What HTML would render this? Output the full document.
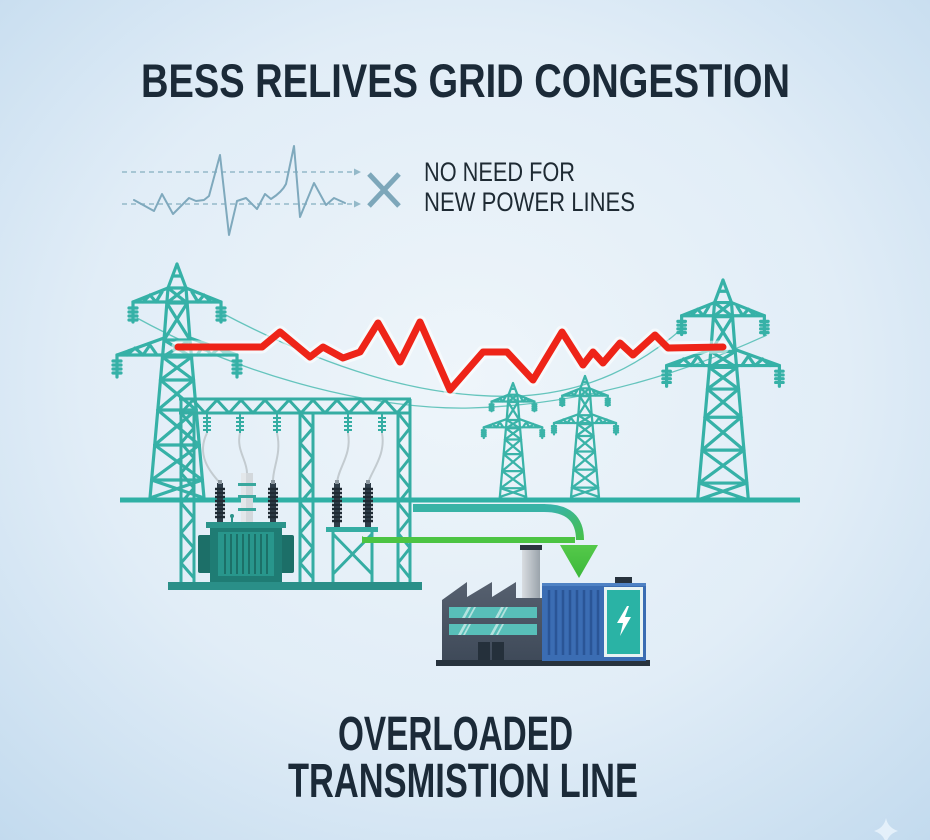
<!DOCTYPE html>
<html>
<head>
<meta charset="utf-8">
<style>
html,body{margin:0;padding:0;background:#dcebf6;}
svg{display:block;}
text{font-family:"Liberation Sans Narrow","Liberation Sans",sans-serif;}
</style>
</head>
<body>
<svg width="930" height="840" viewBox="0 0 930 840" xmlns="http://www.w3.org/2000/svg">
<defs>
  <radialGradient id="bg" cx="50%" cy="45%" r="75%">
    <stop offset="0" stop-color="#eef5fa"/>
    <stop offset="0.55" stop-color="#e1edf7"/>
    <stop offset="1" stop-color="#c2daee"/>
  </radialGradient>
  <linearGradient id="chim" x1="0" y1="0" x2="1" y2="0">
    <stop offset="0" stop-color="#d9dde1"/>
    <stop offset="1" stop-color="#9aa3ab"/>
  </linearGradient>
  <linearGradient id="fact" x1="0" y1="0" x2="0" y2="1">
    <stop offset="0" stop-color="#56606f"/>
    <stop offset="1" stop-color="#3f4a59"/>
  </linearGradient>
  <linearGradient id="curve" gradientUnits="userSpaceOnUse" x1="555" y1="508" x2="582" y2="545">
    <stop offset="0" stop-color="#38b3a6"/>
    <stop offset="1" stop-color="#47c23f"/>
  </linearGradient>
  <linearGradient id="ahead" x1="0" y1="0" x2="0" y2="1">
    <stop offset="0" stop-color="#55c94a"/>
    <stop offset="1" stop-color="#3cb83a"/>
  </linearGradient>
  <g id="tw" fill="none" stroke-linecap="round" stroke-linejoin="round">
    <path d="M0,0 L-9,24 L-13,76 L-27,234 M0,0 L9,24 L13,76 L27,234"/>
    <path d="M-4,12 H4 M-9,24 H9 M-10.2,39 H10.2 M-13,76 H13 M-14.5,93 H14.5 M-16.5,116 H16.5 M-19.2,146 H19.2 M-22.3,181 H22.3 M-25.4,216 H25.4"/>
    <path d="M-9,24 L10.2,39 M9,24 L-10.2,39 M-10.2,39 L13,76 M10.2,39 L-13,76 M-13,76 L14.5,93 M13,76 L-14.5,93 M-14.5,93 L16.5,116 M14.5,93 L-16.5,116 M-16.5,116 L19.2,146 M16.5,116 L-19.2,146 M-19.2,146 L22.3,181 M19.2,146 L-22.3,181 M-22.3,181 L25.4,216 M22.3,181 L-25.4,216 M-25.4,216 L27,234 M25.4,216 L-27,234"/>
    <path d="M-44,38 H44 M-44,38 L-9,24 M44,38 L9,24 M-34,38 L-27,31 L-21,38 L-15,28 M34,38 L27,31 L21,38 L15,28"/>
    <path d="M-60,91 H60 M-60,91 L-13,74 M60,91 L13,74 M-50,91 L-42,84 L-34,91 L-27,81 L-20,91 M50,91 L42,84 L34,91 L27,81 L20,91"/>
    <path d="M-44,38 V58 M-48,44 H-40 M-48,48 H-40 M-48,52 H-40 M-48,56 H-40 M44,38 V58 M40,44 H48 M40,48 H48 M40,52 H48 M40,56 H48 M-60,91 V113 M-64,97 H-56 M-64,101 H-56 M-64,105 H-56 M-64,109 H-56 M60,91 V113 M56,97 H64 M56,101 H64 M56,105 H64 M56,109 H64"/>
  </g>
</defs>

<rect x="0" y="0" width="930" height="840" fill="url(#bg)"/>

<!-- Title -->
<text x="141" y="97" font-size="47" font-weight="700" fill="#1b2a38" textLength="649" lengthAdjust="spacingAndGlyphs">BESS RELIVES GRID CONGESTION</text>

<!-- Wave / dashed lines -->
<g fill="none" stroke="#94b9c9" stroke-width="1.5" stroke-dasharray="5 4">
  <path d="M122,172 H354"/>
  <path d="M122,204 H354"/>
</g>
<path d="M354,168.5 L361,172 L354,175.5 Z M354,200.5 L361,204 L354,207.5 Z" fill="#94b9c9"/>
<path d="M134,200 L154,211 L162,194 L173,214 L189,198 L196,201 L204,200 L209,196 L220,155 L229,235 L237,201 L246,198 L257,209 L265,194 L271,199 Q282,192 286,184 L294,146 L300,217 L314,183 L326,205 L334,198 L345,203" fill="none" stroke="#7fa9bd" stroke-width="2" stroke-linejoin="round" stroke-linecap="round"/>
<path d="M369,174 L399,206 M399,174 L369,206" stroke="#7da7ba" stroke-width="5" stroke-linecap="butt"/>
<text x="424" y="181" font-size="27" fill="#1e2a33" textLength="151" lengthAdjust="spacingAndGlyphs">NO NEED FOR</text>
<text x="424" y="211" font-size="27" fill="#1e2a33" textLength="211" lengthAdjust="spacingAndGlyphs">NEW POWER LINES</text>

<!-- Thin wires -->
<g fill="none" stroke="#4fbdb3" stroke-width="1.3" opacity="0.85">
  <path d="M220,312 C320,365 420,400 520,396 C590,392 640,365 683,328"/>
  <path d="M137,318 C250,380 380,410 470,408 C580,405 680,375 767,335"/>
</g>

<!-- Towers -->
<use href="#tw" transform="translate(513,383) scale(0.487)" stroke="#3ab3a8" stroke-width="4.6"/>
<use href="#tw" transform="translate(585,376) scale(0.517)" stroke="#3ab3a8" stroke-width="4.4"/>
<use href="#tw" transform="translate(177,264)" stroke="#36b1a7" stroke-width="3.2"/>
<use href="#tw" transform="translate(723,280) scale(0.94)" stroke="#36b1a7" stroke-width="3.4"/>

<!-- Red overload line -->
<path d="M178,347 L262,347 L280,332 L310,357 L323,347 L343,358 L360,352 L378,323 L400,362 L420,322 L450,390 L483,352 L507,352 L533,380 L562,332 L583,365 L593,352 L603,363 L620,343 L633,355 L655,335 L668,348 L723,347" fill="none" stroke="#ffffff" stroke-opacity="0.55" stroke-width="13" stroke-linejoin="round" stroke-linecap="round"/>
<path d="M178,347 L262,347 L280,332 L310,357 L323,347 L343,358 L360,352 L378,323 L400,362 L420,322 L450,390 L483,352 L507,352 L533,380 L562,332 L583,365 L593,352 L603,363 L620,343 L633,355 L655,335 L668,348 L723,347" fill="none" stroke="#ee2418" stroke-width="7" stroke-linejoin="round" stroke-linecap="round"/>

<!-- Gantry -->
<g stroke="#35ada3" stroke-width="3" fill="none" stroke-linejoin="round">
  <path d="M179,399 H411 M179,413 H411"/>
  <path d="M181,413 L193,400 L205,413 L217,400 L229,413 L241,400 L253,413 L265,400 L277,413 L289,400 L301,413 L313,400 L325,413 L337,400 L349,413 L361,400 L373,413 L385,400 L397,413 L409,400"/>
  <path d="M181,399 V584 M194,413 V584 M300,413 V584 M313,413 V584 M398,413 V584 M410,399 V584"/>
  <path d="M181,413 L194,428 L181,443 L194,458 L181,473 L194,488 L181,503 L194,518 L181,533 L194,548 L181,563 L194,578"/>
  <path d="M300,413 L313,428 L300,443 L313,458 L300,473 L313,488 L300,503 L313,518 L300,533 L313,548 L300,563 L313,578"/>
  <path d="M398,413 L410,428 L398,443 L410,458 L398,473 L410,488 L398,503 L410,518 L398,533 L410,548 L398,563 L410,578"/>
</g>

<!-- Insulators on gantry -->
<g stroke="#35ada3" stroke-width="2" fill="none">
  <path d="M207,414 V433 M203,418 H211 M203,422 H211 M203,426 H211 M203,430 H211"/>
  <path d="M240,414 V433 M236,418 H244 M236,422 H244 M236,426 H244 M236,430 H244"/>
  <path d="M277,414 V433 M273,418 H281 M273,422 H281 M273,426 H281 M273,430 H281"/>
  <path d="M348,414 V433 M344,418 H352 M344,422 H352 M344,426 H352 M344,430 H352"/>
  <path d="M382,414 V433 M378,418 H386 M378,422 H386 M378,426 H386 M378,430 H386"/>
</g>
<g stroke="#c3cbd0" stroke-width="2" fill="none">
  <path d="M207,433 C196,455 210,472 220,483"/>
  <path d="M240,433 C236,450 247,460 247,473"/>
  <path d="M277,433 C282,455 272,468 273,483"/>
  <path d="M348,433 C352,455 338,468 337,483"/>
  <path d="M382,433 C386,455 372,470 368,483"/>
</g>

<!-- Ground line -->
<path d="M120,500 H800" stroke="#2fb0a5" stroke-width="5"/>

<!-- Bushings -->
<g>
  <rect x="217" y="483" width="6" height="40" fill="#2f3d49"/>
  <rect x="270" y="483" width="6" height="40" fill="#2f3d49"/>
  <rect x="334" y="483" width="6" height="45" fill="#2f3d49"/>
  <rect x="365" y="483" width="6" height="45" fill="#2f3d49"/>
  <g stroke="#1f2a33" stroke-width="2.4">
    <path d="M215,489 H225 M215,493 H225 M215,497 H225 M215,501 H225 M215,505 H225 M215,509 H225 M215,513 H225 M215,517 H225"/>
    <path d="M268,489 H278 M268,493 H278 M268,497 H278 M268,501 H278 M268,505 H278 M268,509 H278 M268,513 H278 M268,517 H278"/>
    <path d="M332,489 H342 M332,493 H342 M332,497 H342 M332,501 H342 M332,505 H342 M332,509 H342 M332,513 H342 M332,517 H342 M332,521 H342"/>
    <path d="M363,489 H373 M363,493 H373 M363,497 H373 M363,501 H373 M363,505 H373 M363,509 H373 M363,513 H373 M363,517 H373 M363,521 H373"/>
  </g>
  <rect x="218" y="480" width="4" height="4" fill="#8c979f"/>
  <rect x="271" y="480" width="4" height="4" fill="#8c979f"/>
  <rect x="335" y="480" width="4" height="4" fill="#8c979f"/>
  <rect x="366" y="480" width="4" height="4" fill="#8c979f"/>
  <!-- grey center bushing -->
  <rect x="241" y="473" width="12" height="50" fill="#d3d8dc"/>
  <rect x="241" y="473" width="5" height="50" fill="#e3e7ea"/>
  <rect x="238" y="483" width="18" height="3" fill="#3aa89e"/>
  <rect x="238" y="495" width="18" height="3" fill="#3aa89e"/>
  <rect x="238" y="508" width="18" height="3" fill="#3aa89e"/>
</g>

<!-- Transformer -->
<g>
  <rect x="198" y="535" width="16" height="38" rx="2" fill="#1c6f68"/>
  <rect x="278" y="535" width="16" height="38" rx="2" fill="#1c6f68"/>
  <rect x="210" y="526" width="72" height="57" fill="#1f7c74"/>
  <rect x="206" y="522" width="80" height="6" fill="#2b948b"/>
  <rect x="218" y="532" width="56" height="44" fill="#28968c"/>
  <path d="M225,534 V574 M231,534 V574 M237,534 V574 M243,534 V574 M249,534 V574 M255,534 V574 M261,534 V574 M267,534 V574" stroke="#1c7068" stroke-width="2"/>
  <path d="M232,522 V517" stroke="#2b948b" stroke-width="2"/>
  <circle cx="232" cy="516" r="2" fill="#2b948b"/>
</g>

<!-- Breaker stand -->
<g stroke="#35ada3" stroke-width="3" fill="none">
  <path d="M333,532 V584 M372,532 V584 M333,534 L372,574 M372,534 L333,574"/>
</g>
<rect x="326" y="527" width="52" height="5" fill="#35ada3"/>

<!-- Base bar -->
<rect x="168" y="582" width="254" height="8" fill="#2a8f88"/>

<!-- Teal flow band -->
<path d="M413,508 H545" stroke="#38b3a6" stroke-width="8" fill="none"/>
<path d="M544,508 Q580,508 580,540" stroke="url(#curve)" stroke-width="8" fill="none"/>
<!-- Green arrow -->
<path d="M362,540 H575" stroke="#4cc443" stroke-width="6" fill="none"/>
<path d="M362,536 L368,540 L362,544 Z" fill="#4cc443"/>
<path d="M560,545 L598,545 L579,578 Z" fill="url(#ahead)"/>

<!-- Factory -->
<rect x="436" y="660" width="214" height="6" fill="#27323d"/>
<rect x="522" y="549" width="18" height="52" fill="url(#chim)"/>
<rect x="520" y="545" width="22" height="5" fill="#2c3540"/>
<path d="M442,660 V600 L467,582 V597 L492,582 V597 L516,582 V598 L542,598 V660 Z" fill="url(#fact)"/>
<rect x="449" y="607" width="88" height="11" fill="#58bfb9"/>
<rect x="449" y="624" width="88" height="11" fill="#58bfb9"/>
<g fill="#ffffff" opacity="0.55">
  <path d="M462,618 L468,607 L471,607 L465,618 Z M468,618 L474,607 L476,607 L470,618 Z M495,618 L501,607 L504,607 L498,618 Z M500,618 L506,607 L508,607 L502,618 Z"/>
  <path d="M458,635 L464,624 L467,624 L461,635 Z M463,635 L469,624 L471,624 L465,635 Z M490,635 L496,624 L499,624 L493,635 Z M496,635 L502,624 L504,624 L498,635 Z"/>
</g>
<rect x="478" y="642" width="12" height="18" fill="#25303b"/>
<rect x="492" y="642" width="12" height="18" fill="#25303b"/>

<!-- Battery container -->
<rect x="542" y="583" width="104" height="78" fill="#3b6db3"/>
<rect x="542" y="583" width="104" height="3" fill="#4f82c4"/>
<path d="M549,590 V655 M556,590 V655 M563,590 V655 M570,590 V655 M577,590 V655 M584,590 V655 M591,590 V655 M598,590 V655" stroke="#2a5596" stroke-width="2.5"/>
<rect x="615" y="577" width="17" height="6" fill="#27323d"/>
<rect x="604" y="587" width="39" height="70" fill="#e8f3f3"/>
<rect x="607" y="590" width="33" height="64" fill="#2ab3a5"/>
<path d="M627,606 L617,623 L623,623 L620,636 L631,617 L625,617 L629,606 Z" fill="#ffffff"/>

<!-- Bottom label -->
<text x="338" y="750" font-size="48" font-weight="700" fill="#1b2a38" textLength="235" lengthAdjust="spacingAndGlyphs">OVERLOADED</text>
<text x="288" y="797" font-size="48" font-weight="700" fill="#1b2a38" textLength="350" lengthAdjust="spacingAndGlyphs">TRANSMISTION LINE</text>

<!-- corner sparkle -->
<path d="M886,818 Q888,828 898,831 Q888,834 886,844 Q884,834 874,831 Q884,828 886,818 Z" fill="#e4f0fa"/>
</svg>
</body>
</html>
